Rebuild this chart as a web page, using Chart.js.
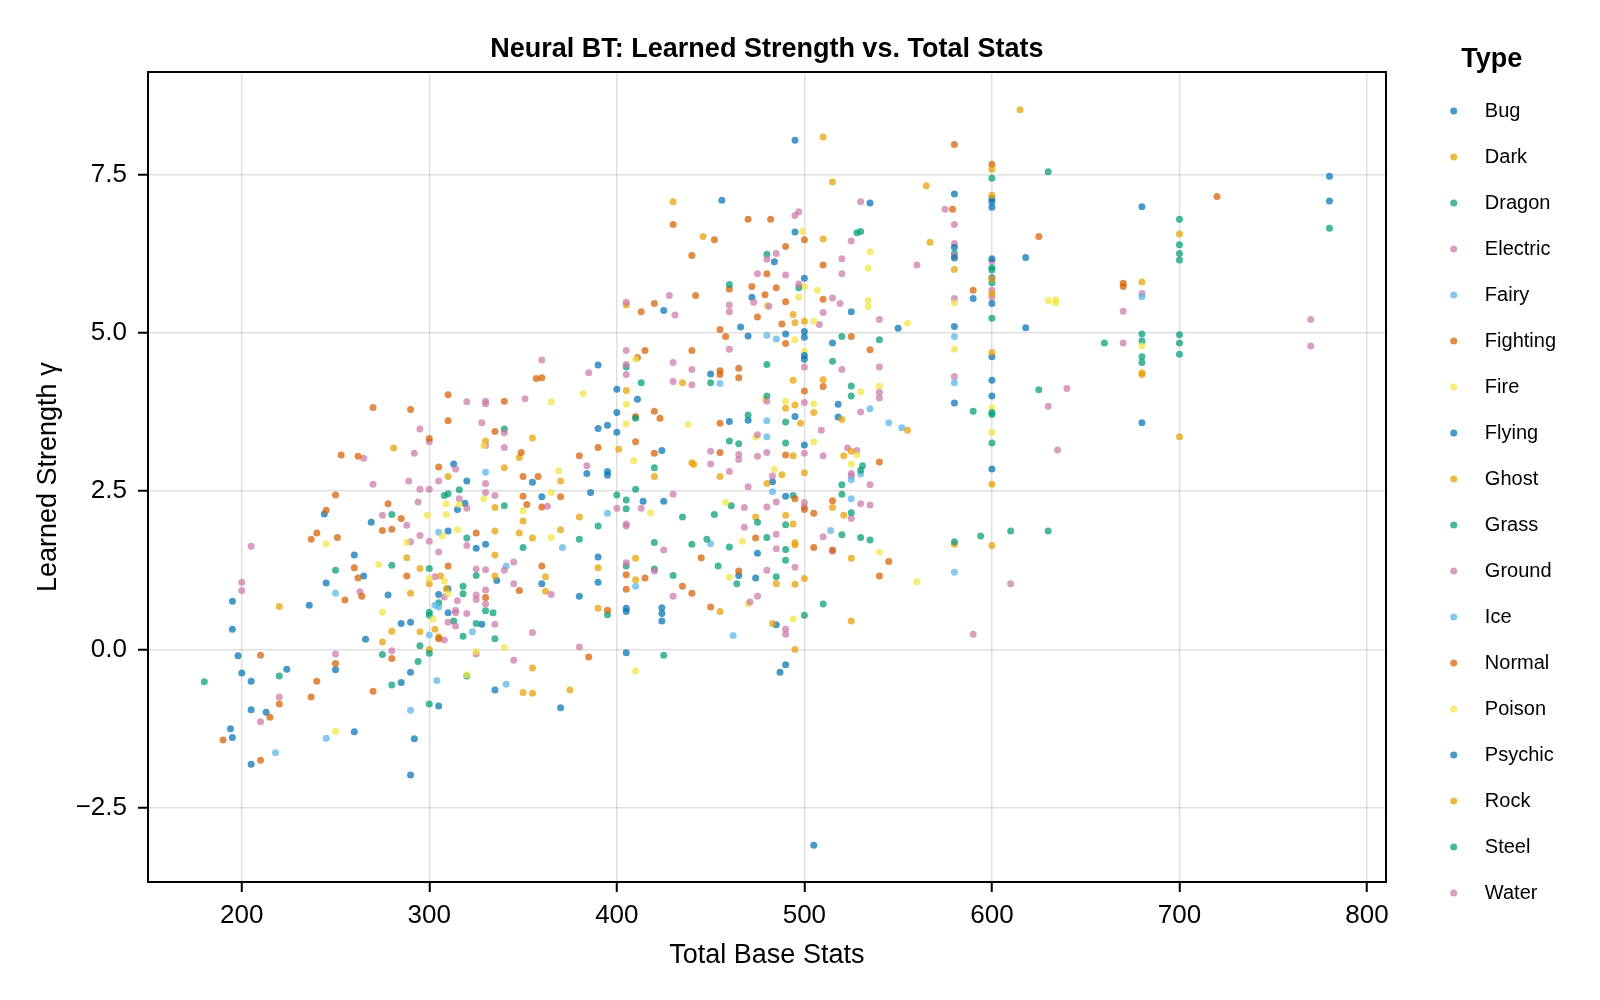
<!DOCTYPE html>
<html lang="en">
<head>
    <meta charset="UTF-8">
    <title>Neural BT: Learned Strength vs. Total Stats</title>
    <script src="https://cdn.jsdelivr.net/npm/chart.js"></script>
    <style>
        body {
            margin: 0;
            background: #fff;
        }
        .grafico-container {
            width: 1600px;
            height: 1000px;
        }
    </style>
</head>
<body>
    <div class="grafico-container">
        <canvas id="grafica"></canvas>
    </div>

    <script>
        // [total base stats, learned strength] per Pokemon
        const bug = [[313,2.93],[320,2.66],[319,2.31],[315,2.21],[244,2.14],[269,2.01],[310,1.87],[330,1.66],[325,1.60],[260,1.49],[265,1.16],[245,1.05],[336,1.09],[310,0.96],[305,0.87],[278,0.86],[195,0.76],[236,0.70],[310,0.58],[290,0.43],[285,0.41],[328,0.40],[195,0.32],[266,0.16],[198,-0.10],[200,-0.37],[224,-0.31],[250,-0.32],[205,-0.50],[290,-0.36],[285,-0.52],[335,-0.64],[205,-0.95],[213,-0.99],[305,-0.89],[194,-1.25],[195,-1.39],[260,-1.30],[292,-1.41],[205,-1.81],[290,-1.98]];
        const dark = [[281,3.18],[310,2.73],[330,3.29],[335,2.24],[335,1.87],[288,1.45],[295,1.28],[335,1.49],[335,1.16],[306,1.16],[300,1.04],[290,0.89],[309,0.96],[220,0.68],[280,0.29],[295,0.28],[303,0.32],[275,0.12],[300,0.0],[305,0.2],[430,7.07],[446,6.52],[494,5.29],[495,5.16],[405,5.44],[435,4.21],[405,4.09],[494,4.25],[490,3.81],[495,3.86],[355,3.34],[348,3.03],[340,2.87]];
        const dragon = [[780,6.65],[700,6.79],[700,6.39],[700,6.25],[700,6.15],[680,4.98],[680,4.87],[660,4.84],[700,4.97],[700,4.84],[700,4.66],[680,4.62],[680,4.53],[600,7.44],[630,7.54],[528,6.58],[530,6.60],[580,6.25],[600,6.03],[600,5.99],[600,5.79],[600,5.23],[520,4.94],[540,4.89],[515,4.55],[525,4.16],[525,4.0],[625,4.10]];
        const electric = [[530,7.07],[575,6.95],[580,6.71],[525,6.45],[580,6.41],[580,6.21],[520,6.17],[560,6.07],[600,6.13],[600,5.67],[600,5.56],[520,5.93],[515,5.55],[519,5.46],[510,5.32],[540,5.21],[508,5.13],[580,5.54],[500,4.46],[520,4.42],[540,4.46],[540,4.06],[540,3.97],[640,4.12],[580,4.31],[500,3.90],[530,3.75],[509,3.46],[630,3.84],[635,3.15],[500,3.10],[510,3.06],[523,3.18],[528,3.14],[525,2.78],[525,2.74],[535,2.60],[500,2.32],[500,2.25],[530,2.30],[535,2.28],[525,2.07],[510,1.78],[515,1.55],[610,1.04],[590,0.24],[680,5.62],[670,5.34],[770,5.21],[770,4.79],[670,4.84]];
        const fairy = [[480,4.96],[485,4.90],[455,4.20],[480,3.61],[480,3.36],[483,2.49],[395,2.15],[371,1.61],[341,1.32],[450,1.67],[410,1.0],[462,0.22],[680,5.57],[580,4.94],[580,4.21],[535,3.80],[545,3.58],[552,3.50]];
        const fighting = [[430,6.71],[452,6.47],[470,6.79],[482,6.79],[440,6.22],[490,6.36],[442,5.59],[420,5.46],[413,5.33],[460,5.69],[472,5.73],[480,5.93],[485,5.71],[479,5.60],[490,5.49],[475,5.25],[488,5.14],[455,5.05],[458,4.94],[490,4.83],[415,4.72],[411,4.61],[440,4.72],[455,4.40],[455,4.34],[465,4.44],[465,4.29],[357,4.28],[360,4.29],[340,3.92],[410,3.68],[420,3.76],[423,3.65],[455,3.57],[580,7.97],[600,7.66],[579,6.95],[625,6.52],[500,6.47],[510,6.07],[590,5.67],[510,5.53],[525,4.94],[535,4.73],[720,7.15],[670,5.78],[670,5.73]];
        const fire = [[499,6.60],[535,6.28],[534,6.02],[500,5.73],[507,5.67],[534,5.51],[534,5.41],[555,5.15],[505,5.18],[580,5.47],[630,5.51],[634,5.52],[634,5.47],[580,4.74],[500,4.71],[530,4.07],[540,4.16],[505,3.88],[600,3.82],[600,3.43],[505,3.28],[528,3.07],[525,2.93],[540,1.54],[560,1.07],[680,4.79]];
        const flying = [[456,7.09],[495,6.59],[484,6.12],[472,5.56],[425,5.35],[466,5.09],[470,4.95],[490,4.98],[390,4.49],[400,4.11],[411,3.95],[400,3.74],[390,3.49],[395,3.54],[400,3.43],[450,4.35],[460,3.60],[470,3.62],[495,3.68],[424,3.14],[384,2.78],[395,2.81],[395,2.75],[355,2.64],[386,2.48],[360,2.41],[414,2.34],[425,2.34],[490,2.42],[483,2.65],[475,1.52],[474,1.13],[465,1.17],[360,1.04],[390,1.46],[390,1.06],[380,0.84],[405,0.65],[405,0.60],[424,0.66],[424,0.57],[424,0.45],[485,0.39],[405,-0.05],[490,-0.24],[487,-0.36],[370,-0.92]];
        const ghost = [[370,2.66],[401,3.16],[420,2.73],[440,2.95],[441,2.92],[455,2.73],[480,2.62],[488,2.76],[494,3.06],[494,1.98],[495,1.69],[495,1.65],[495,1.03],[485,1.04],[350,2.03],[348,1.84],[355,1.76],[370,1.89],[380,2.09],[390,1.29],[410,1.44],[362,1.15],[362,0.92],[410,1.10],[474,2.09],[490,2.12],[390,0.65],[455,0.60],[483,0.41],[495,0.0],[355,-0.29],[350,-0.68],[355,-0.69],[375,-0.64]];
        const grass = [[280,2.13],[250,1.25],[280,1.33],[300,1.28],[308,2.43],[310,2.46],[316,2.52],[320,1.76],[325,1.17],[318,1.0],[318,0.88],[300,0.59],[300,0.54],[305,0.74],[313,0.45],[330,0.61],[334,0.58],[325,0.41],[318,0.21],[335,0.17],[275,-0.08],[295,0.06],[300,-0.06],[294,-0.19],[220,-0.42],[280,-0.56],[180,-0.51],[300,-0.86],[320,-0.42],[340,2.27],[390,1.95],[380,1.74],[350,1.61],[435,2.09],[452,2.13],[461,2.27],[475,2.01],[490,1.97],[494,2.43],[480,1.77],[490,1.58],[490,1.41],[420,1.69],[440,1.66],[448,1.74],[460,1.62],[454,1.32],[430,1.17],[420,1.27],[405,1.32],[485,1.15],[464,1.04],[395,0.55],[425,-0.09]];
        const ground = [[320,3.91],[330,3.92],[330,3.88],[328,3.58],[295,3.48],[300,3.28],[330,3.22],[292,3.10],[265,3.02],[314,2.85],[289,2.66],[305,2.66],[270,2.61],[330,2.62],[330,2.48],[335,2.43],[295,2.53],[300,2.53],[294,2.33],[316,2.38],[320,2.23],[275,2.12],[288,1.96],[290,1.70],[295,1.80],[300,1.71],[320,1.64],[305,1.54],[205,1.63],[325,1.27],[330,1.26],[303,1.15],[200,1.06],[200,0.93],[263,0.91],[330,0.94],[308,0.83],[325,0.86],[325,0.79],[315,0.77],[314,0.62],[314,0.58],[320,0.57],[330,0.72],[310,0.43],[314,0.37],[335,0.40],[308,0.15],[280,-0.02],[250,-0.07],[325,-0.07],[220,-0.75],[210,-1.14]];
        const ice = [[330,2.80],[305,1.85],[250,0.89],[305,0.67],[303,0.70],[300,0.23],[323,0.28],[304,-0.49],[290,-0.96],[245,-1.40],[218,-1.63],[341,-0.55],[525,2.68],[530,2.77],[525,2.38],[514,1.88],[580,1.22]];
        const normal = [[310,4.02],[270,3.82],[290,3.79],[310,3.61],[335,3.44],[300,3.33],[253,3.07],[262,3.05],[305,2.88],[250,2.44],[278,2.30],[245,2.20],[285,2.07],[275,1.88],[280,1.90],[325,1.84],[240,1.84],[237,1.74],[251,1.77],[260,1.29],[262,1.13],[310,1.32],[288,1.16],[264,0.84],[255,0.78],[330,0.82],[305,0.17],[210,-0.09],[250,-0.22],[280,-0.14],[240,-0.50],[237,-0.75],[270,-0.66],[220,-0.86],[215,-1.07],[190,-1.43],[210,-1.75],[390,3.19],[410,3.28],[380,3.06],[349,3.11],[420,3.10],[455,3.11],[490,3.07],[350,2.73],[358,2.73],[350,2.42],[352,2.29],[360,2.25],[370,2.41],[495,2.38],[405,1.18],[405,0.95],[415,1.13],[360,1.32],[348,0.93],[435,1.0],[440,0.89],[445,1.45],[474,1.76],[465,1.24],[450,0.67],[395,0.62],[385,-0.12],[510,4.15],[500,4.08],[540,2.96],[500,2.21],[515,2.35],[505,2.15],[505,1.61],[515,1.57],[545,1.39],[540,1.16]];
        const poison = [[329,3.22],[309,2.30],[316,2.29],[329,2.38],[299,2.12],[309,2.13],[315,1.89],[307,1.79],[288,1.69],[245,1.67],[273,1.34],[300,1.12],[308,1.08],[310,0.88],[275,0.59],[302,0.48],[325,-0.03],[320,-0.40],[250,-1.29],[382,4.04],[365,3.91],[405,3.87],[410,4.58],[405,3.56],[438,3.55],[480,5.43],[495,4.89],[497,5.56],[490,3.92],[479,3.95],[409,2.98],[369,2.82],[474,3.35],[484,2.84],[365,2.48],[350,2.19],[365,1.77],[418,2.16],[458,2.32],[467,1.71],[460,1.14],[470,0.72],[494,0.48],[340,0.03],[410,-0.34]];
        const psychic = [[495,8.04],[580,7.19],[600,7.12],[600,7.07],[600,6.98],[535,7.05],[618,6.19],[580,6.35],[580,6.18],[600,6.17],[600,5.87],[600,5.46],[500,5.86],[525,5.33],[550,5.07],[590,5.54],[618,5.08],[580,5.10],[500,5.02],[500,4.93],[515,4.84],[500,4.64],[500,4.58],[600,4.62],[600,4.25],[600,4.0],[580,3.89],[518,3.87],[518,3.67],[500,3.23],[600,2.85],[505,-3.09],[780,7.47],[780,7.08],[680,6.99],[680,3.58]];
        const rock = [[510,8.09],[600,7.58],[515,7.38],[565,7.32],[600,7.17],[510,6.48],[567,6.43],[580,6.0],[600,5.85],[600,5.62],[500,5.18],[510,4.26],[505,3.74],[520,3.63],[498,3.57],[555,3.46],[521,3.06],[525,3.13],[500,2.79],[600,2.61],[515,2.24],[521,2.12],[525,1.44],[500,1.12],[580,1.66],[600,1.64],[525,0.45],[600,4.69],[615,8.52],[700,6.56],[680,5.80],[680,4.37],[680,4.34],[700,3.36]];
        const steel = [[480,6.24],[460,5.76],[497,5.71],[405,4.46],[413,4.21],[480,4.50],[410,3.65],[340,3.48],[450,4.21],[470,3.70],[480,4.0],[490,3.59],[460,3.29],[465,3.25],[490,3.26],[420,2.87],[410,2.53],[400,2.44],[405,2.36],[405,2.22],[600,3.74],[600,3.71],[590,3.76],[600,3.26],[530,2.83],[531,2.90],[520,2.60],[520,2.45],[525,2.16],[520,1.81],[530,1.77],[535,1.73],[580,1.70],[594,1.79],[610,1.87],[630,1.87],[510,0.72],[500,0.54]];
        const water = [[495,6.85],[497,6.91],[480,6.16],[485,6.25],[475,5.93],[490,5.91],[428,5.59],[431,5.28],[405,5.48],[460,5.44],[460,5.33],[473,5.48],[481,5.42],[497,5.77],[460,4.74],[405,4.72],[405,4.50],[405,4.34],[430,4.53],[430,4.23],[440,4.42],[440,4.18],[360,4.57],[385,4.37],[351,3.96],[340,3.42],[340,3.19],[480,3.92],[475,3.39],[450,3.13],[450,2.93],[465,3.08],[465,3.0],[475,3.05],[480,3.11],[460,2.81],[483,2.74],[384,2.90],[470,2.57],[485,2.33],[480,2.25],[468,2.24],[430,2.45],[413,2.23],[400,2.23],[363,2.26],[405,1.98],[405,1.95],[468,1.93],[485,1.82],[485,1.59],[495,1.30],[425,1.57],[480,1.25],[345,1.38],[340,1.25],[345,1.04],[365,0.87],[405,1.37],[420,1.24],[430,0.84],[475,0.84],[471,0.75],[490,0.32],[490,0.24],[355,0.27],[380,0.04],[345,-0.17]];

        const tipos = ['Bug', 'Dark', 'Dragon', 'Electric', 'Fairy', 'Fighting', 'Fire', 'Flying', 'Ghost',
                       'Grass', 'Ground', 'Ice', 'Normal', 'Poison', 'Psychic', 'Rock', 'Steel', 'Water'];
        const puntos = [bug, dark, dragon, electric, fairy, fighting, fire, flying, ghost,
                        grass, ground, ice, normal, poison, psychic, rock, steel, water];
        // the 7 colour palette repeats over the types
        const paleta = ['0,114,178', '230,159,0', '0,158,115', '204,121,167', '86,180,233', '213,94,0', '240,228,66'];

        Chart.defaults.font.family = '"Liberation Sans", Arial, Helvetica, sans-serif';
        Chart.defaults.color = '#000';

        const rejilla = {
            color: 'rgba(0,0,0,0.12)',
            lineWidth: 1.5,
            tickLength: 10,
            tickColor: '#000',
            tickWidth: 2
        };
        const borde = { display: true, color: '#000', width: 2 };

        const ctx = document.getElementById('grafica').getContext('2d');
        const grafica = new Chart(ctx, {
            type: 'scatter',
            data: {
                datasets: tipos.map((t, i) => ({
                    label: t,
                    data: puntos[i],
                    backgroundColor: 'rgba(' + paleta[i % 7] + ',0.72)',
                    borderWidth: 0,
                    pointRadius: 3.5,
                    pointHoverRadius: 3.5,
                    order: tipos.length - i   // later types drawn on top
                }))
            },
            options: {
                responsive: true,
                maintainAspectRatio: false,
                animation: false,
                devicePixelRatio: 1,
                events: [],
                layout: { padding: { left: 0, right: 34, top: 0, bottom: 0 } },
                plugins: {
                    title: {
                        display: true,
                        text: 'Neural BT: Learned Strength vs. Total Stats',
                        fullSize: false,
                        color: '#000',
                        font: { size: 27, weight: 'bold', lineHeight: 1.2 },
                        padding: { top: 33, bottom: 7 }
                    },
                    legend: {
                        position: 'right',
                        align: 'start',
                        title: {
                            display: true,
                            text: 'Type',
                            color: '#000',
                            font: { size: 27, weight: 'bold', lineHeight: 1 },
                            padding: { top: 46, bottom: 2 }
                        },
                        labels: {
                            usePointStyle: true,
                            pointStyle: 'circle',
                            boxWidth: 20,
                            boxHeight: 5,
                            padding: 26,
                            color: '#000',
                            font: { size: 20 },
                            sort: (a, b) => a.datasetIndex - b.datasetIndex,
                            generateLabels: (chart) =>
                                Chart.defaults.plugins.legend.labels.generateLabels(chart)
                                    .map(l => Object.assign(l, { text: '  ' + l.text }))
                        }
                    },
                    tooltip: { enabled: false }
                },
                scales: {
                    x: {
                        type: 'linear',
                        position: 'bottom',
                        min: 150,
                        max: 810,
                        ticks: { stepSize: 100, includeBounds: false, padding: 8, maxRotation: 0, font: { size: 26 } },
                        grid: rejilla,
                        border: borde,
                        title: { display: true, text: 'Total Base Stats', font: { size: 27 }, padding: { top: 0, bottom: 28 } },
                        afterFit: (s) => { s.height = 118; }
                    },
                    y: {
                        type: 'linear',
                        position: 'left',
                        min: -3.67,
                        max: 9.11,
                        ticks: {
                            stepSize: 2.5,
                            includeBounds: false,
                            padding: 11,
                            font: { size: 26 },
                            callback: (v) => v.toFixed(1).replace('-', '\u2212')
                        },
                        grid: rejilla,
                        border: borde,
                        title: { display: true, text: 'Learned Strength γ', font: { size: 27 }, padding: { top: 32, bottom: 0 } },
                        afterFit: (s) => { s.width = 148; }
                    },
                    // frame on top and right side of the plot
                    xt: {
                        type: 'linear',
                        position: 'top',
                        min: 150,
                        max: 810,
                        ticks: { display: false },
                        grid: { display: false, drawTicks: false },
                        border: borde,
                        afterFit: (s) => { s.height = 0; }
                    },
                    yr: {
                        type: 'linear',
                        position: 'right',
                        min: -3.67,
                        max: 9.11,
                        ticks: { display: false },
                        grid: { display: false, drawTicks: false },
                        border: borde,
                        afterFit: (s) => { s.width = 32; }
                    }
                }
            }
        });
    </script>
</body>
</html>
